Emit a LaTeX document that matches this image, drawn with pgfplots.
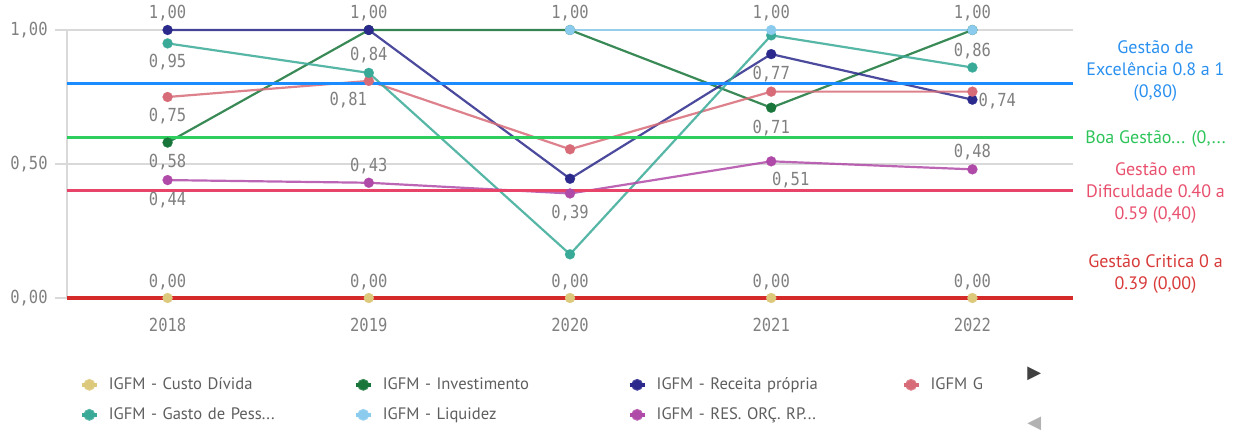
\documentclass[border=0pt]{standalone}
\usepackage{fontspec}
\usepackage{pgfplots}
\pgfplotsset{compat=1.18}
\setmainfont{PT Sans}
\newfontfamily\legfont{PT Sans}[WordSpace=0.6]
\newfontfamily\numfont[FakeStretch=0.86]{DejaVu Sans Mono}
\newfontfamily\symfont{DejaVu Sans}
\definecolor{cdiv}{HTML}{DDC97B}
\definecolor{inv}{HTML}{18763A}
\definecolor{rec}{HTML}{2B2A8C}
\definecolor{igg}{HTML}{D76C78}
\definecolor{gasto}{HTML}{3AAA98}
\definecolor{liq}{HTML}{8BCBEE}
\definecolor{res}{HTML}{B04AA8}
\definecolor{refblue}{HTML}{1A8CFF}
\definecolor{refgreen}{HTML}{2DCE5E}
\definecolor{refpink}{HTML}{E8446A}
\definecolor{refred}{HTML}{D42A2A}
\definecolor{lblue}{HTML}{2A90F0}
\definecolor{lgreen}{HTML}{2DC45A}
\definecolor{lpink}{HTML}{E8506E}
\definecolor{lred}{HTML}{D83A3A}
\definecolor{numgray}{HTML}{808080}
\definecolor{legtext}{HTML}{5E5E5E}
\definecolor{gridc}{HTML}{D9D9D9}
\pgfplotsset{
  ser/.style={color=#1, line width=1.1pt, draw opacity=0.85, mark=*, mark size=2.5pt,
    mark options={solid, draw opacity=1, fill opacity=1, line width=0.1pt}},
}
\tikzset{lbl/.style={font=\numfont\fontsize{9}{10}\selectfont, text=numgray, inner sep=0pt}}
\begin{document}
\begin{tikzpicture}
\begin{axis}[
  at={(0,0)}, anchor=south west,
  scale only axis, width=503pt, height=134pt,
  xmin=-0.5, xmax=4.5, ymin=0, ymax=1,
  clip=false,
  axis x line*=bottom, axis y line*=left,
  axis line style={draw=gridc, line width=0.6pt},
  xtick={0,1,2,3,4}, xticklabels={2018,2019,2020,2021,2022},
  ytick={0,0.5,1}, yticklabels={{0,00},{0,50},{1,00}},
  major tick length=0pt,
  ymajorgrids, grid style={draw=gridc, line width=0.6pt},
  tick label style={font=\numfont\fontsize{9}{10}\selectfont, text=numgray, inner sep=0pt},
  /pgf/number format/assume math mode=true,
  xticklabel style={anchor=center, yshift=-13.5pt},
  yticklabel style={anchor=center, xshift=-19pt},
  legend columns=4, legend cell align=left,
  legend image code/.code={
    \draw[#1, line width=1.9pt, draw opacity=1, mark=none] (0pt,0pt) -- (7.5pt,0pt);
    \fill[#1, fill opacity=1] (3.75pt,0pt) circle (2.4pt);
    \path[draw=none, fill=none] (0pt,0pt) -- (13.5pt,0pt);
  },
  legend style={draw=none, fill=none, inner sep=0pt, outer sep=0pt,
    at={(axis description cs:0.0129,-0.268)}, anchor=north west,
    /tikz/column sep=0pt, /tikz/row sep=0pt,
    font=\legfont\fontsize{8.3}{10}\selectfont, text=legtext,
    nodes={inner sep=0pt, text width=122.5pt, minimum height=15pt, align=left,
      text=legtext}},
]
% series (legend order row-wise)
\addplot[ser=cdiv] coordinates {(0,0) (1,0) (2,0) (3,0) (4,0)};
\addlegendentry{IGFM - Custo Dívida}
\addplot[ser=inv] coordinates {(0,0.58) (1,1.00) (2,1.00) (3,0.71) (4,1.00)};
\addlegendentry{IGFM - Investimento}
\addplot[ser=rec] coordinates {(0,1.00) (1,1.00) (2,0.445) (3,0.91) (4,0.74)};
\addlegendentry{IGFM - Receita própria}
\addplot[ser=igg] coordinates {(0,0.75) (1,0.81) (2,0.555) (3,0.77) (4,0.77)};
\addlegendentry{IGFM G}
\addplot[ser=gasto] coordinates {(0,0.95) (1,0.84) (2,0.163) (3,0.98) (4,0.86)};
\addlegendentry{IGFM - Gasto de Pess...}
\addplot[ser=liq] coordinates {(2,1.00) (3,1.00) (4,1.00)};
\addlegendentry{IGFM - Liquidez}
\addplot[ser=res] coordinates {(0,0.44) (1,0.43) (2,0.39) (3,0.51) (4,0.48)};
\addlegendentry{IGFM - RES. ORÇ. RP...}
% reference lines
\addplot[refblue, line width=1.6pt, forget plot] coordinates {(-0.5,0.8) (4.5,0.8)};
\addplot[refgreen, line width=1.6pt, forget plot] coordinates {(-0.5,0.6) (4.5,0.6)};
\addplot[refpink, line width=1.6pt, forget plot] coordinates {(-0.5,0.4) (4.5,0.4)};
\addplot[refred, line width=1.6pt, forget plot] coordinates {(-0.5,0) (4.5,0)};
% grid extensions
\draw[gridc, line width=0.6pt] ([xshift=-6pt]axis cs:-0.5,1) -- (axis cs:-0.5,1);
\draw[gridc, line width=0.6pt] ([xshift=-6pt]axis cs:-0.5,0.5) -- (axis cs:-0.5,0.5);
\draw[gridc, line width=0.6pt] ([xshift=-6pt]axis cs:-0.5,0) -- (axis cs:-0.5,0);
% data labels
\node[lbl] at (axis cs:0,1.063) {1,00};
\node[lbl] at (axis cs:0,0.881) {0,95};
\node[lbl] at (axis cs:0,0.679) {0,75};
\node[lbl] at (axis cs:0,0.507) {0,58};
\node[lbl] at (axis cs:0,0.366) {0,44};
\node[lbl] at (axis cs:0,0.060) {0,00};
\node[lbl] at (axis cs:1,1.063) {1,00};
\node[lbl] at (axis cs:1,0.907) {0,84};
\node[lbl] at (axis cs:0.898,0.739) {0,81};
\node[lbl] at (axis cs:1,0.493) {0,43};
\node[lbl] at (axis cs:1,0.060) {0,00};
\node[lbl] at (axis cs:2,1.063) {1,00};
\node[lbl] at (axis cs:2,0.317) {0,39};
\node[lbl] at (axis cs:2,0.060) {0,00};
\node[lbl] at (axis cs:3,1.063) {1,00};
\node[lbl] at (axis cs:3,0.836) {0,77};
\node[lbl] at (axis cs:3,0.634) {0,71};
\node[lbl] at (axis cs:3.097,0.440) {0,51};
\node[lbl] at (axis cs:3,0.060) {0,00};
\node[lbl] at (axis cs:4,1.063) {1,00};
\node[lbl] at (axis cs:4,0.922) {0,86};
\node[lbl] at (axis cs:4.124,0.735) {0,74};
\node[lbl] at (axis cs:4,0.545) {0,48};
\node[lbl] at (axis cs:4,0.060) {0,00};
% reference labels
\node[align=center, text=lblue, font=\fontsize{9}{11}\selectfont, inner sep=0pt] at (axis cs:4.91,0.847) {Gestão de\\Excelência 0.8 a 1\\(0,80)};
\node[align=center, text=lgreen, font=\fontsize{9}{11}\selectfont, inner sep=0pt] at (axis cs:4.91,0.593) {Boa Gestão... (0,...};
\node[align=center, text=lpink, font=\fontsize{9}{11}\selectfont, inner sep=0pt] at (axis cs:4.91,0.392) {Gestão em\\Dificuldade 0.40 a\\0.59 (0,40)};
\node[align=center, text=lred, font=\fontsize{9}{11}\selectfont, inner sep=0pt] at (axis cs:4.91,0.088) {Gestão Critica 0 a\\0.39 (0,00)};
% legend scroll arrows
\node[text=black!75, font=\symfont\fontsize{9}{10}\selectfont, inner sep=0pt] at (axis cs:4.308,-0.284) {▶};
\node[text=black!30, font=\symfont\fontsize{9}{10}\selectfont, inner sep=0pt] at (axis cs:4.308,-0.470) {◀};
\end{axis}
\pgfresetboundingbox
\path[use as bounding box] (-33.5pt,-67pt) rectangle (586.5pt,149pt);
\end{tikzpicture}
\end{document}
